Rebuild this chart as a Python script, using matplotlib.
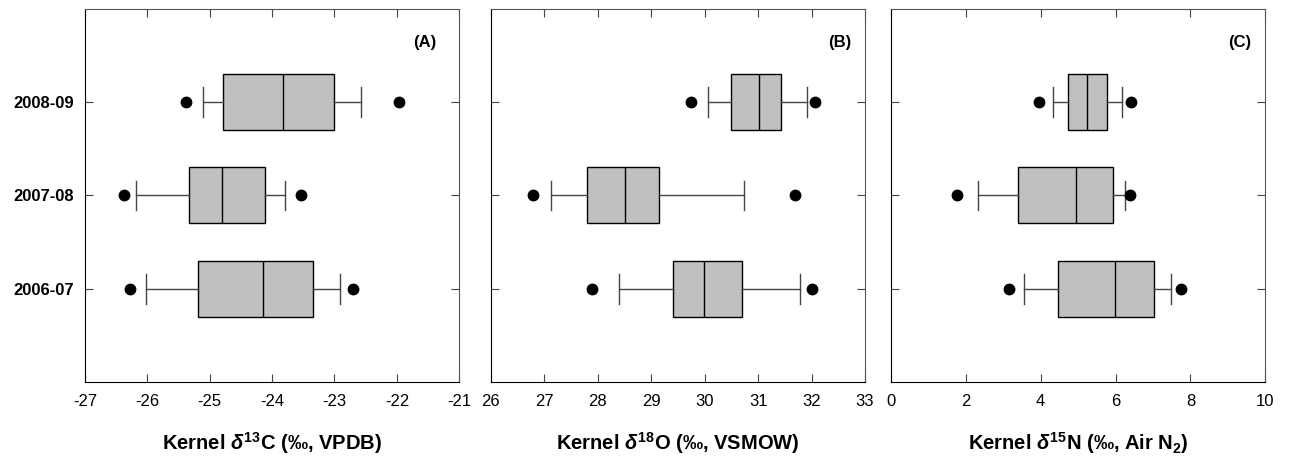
import matplotlib
matplotlib.use("Agg")
import matplotlib.pyplot as plt

plt.rcParams['font.family'] = ['Liberation Sans', 'DejaVu Sans']
plt.rcParams['axes.unicode_minus'] = False
plt.rcParams['mathtext.fontset'] = 'custom'
plt.rcParams['mathtext.rm'] = 'Liberation Sans:bold'
plt.rcParams['mathtext.it'] = 'Liberation Sans:italic:bold'
plt.rcParams['mathtext.bf'] = 'Liberation Sans:bold'

seasons = ['2006-07', '2007-08', '2008-09']

# (outlier low, whisker low, Q1, median, Q3, whisker high, outlier high) per season
d13c = [
    [-26.28, -26.02, -25.18, -24.14, -23.34, -22.91, -22.70],
    [-26.37, -26.18, -25.34, -24.80, -24.11, -23.80, -23.54],
    [-25.38, -25.10, -24.78, -23.83, -23.01, -22.58, -21.96],
]
d18o = [
    [27.90, 28.40, 29.40, 29.99, 30.70, 31.79, 32.00],
    [26.80, 27.12, 27.81, 28.52, 29.15, 30.74, 31.70],
    [29.74, 30.07, 30.50, 31.02, 31.43, 31.91, 32.07],
]
d15n = [
    [3.15, 3.56, 4.46, 5.99, 7.02, 7.49, 7.74],
    [1.76, 2.32, 3.39, 4.95, 5.92, 6.25, 6.38],
    [3.96, 4.34, 4.73, 5.24, 5.76, 6.17, 6.40],
]

xlabels = [r'Kernel $\delta^{13}$C (‰, VPDB)',
           r'Kernel $\delta^{18}$O (‰, VSMOW)',
           r'Kernel $\delta^{15}$N (‰, Air N$_2$)']
panel_tags = ['(A)', '(B)', '(C)']
xlims = [(-27, -21), (26, 33), (0, 10)]
xticks = [range(-27, -20), range(26, 34), range(0, 11, 2)]


def to_stats(rows):
    stats = []
    for r in rows:
        stats.append({'whislo': r[1], 'q1': r[2], 'med': r[3], 'q3': r[4],
                      'whishi': r[5], 'fliers': [r[0], r[6]]})
    return stats


fig = plt.figure(figsize=(12.93, 4.59), dpi=100)
lefts = [0.0657, 0.3795, 0.6891]
tag_x = [0.94, 0.963, 0.963]

for i, data in enumerate([d13c, d18o, d15n]):
    ax = fig.add_axes([lefts[i], 0.168, 0.2895, 0.8125])
    ax.bxp(to_stats(data), positions=[1, 2, 3], orientation='horizontal',
           widths=0.6, capwidths=0.32, patch_artist=True,
           boxprops=dict(facecolor='#c0c0c0', edgecolor='black', linewidth=1.0),
           medianprops=dict(color='black', linewidth=1.0),
           whiskerprops=dict(color='#444444', linewidth=1.0),
           capprops=dict(color='#444444', linewidth=1.0),
           flierprops=dict(marker='o', markerfacecolor='black',
                           markeredgecolor='black', markersize=7.5))
    ax.set_ylim(0, 4)
    ax.set_xlim(*xlims[i])
    ax.set_xticks(list(xticks[i]))
    ax.set_yticks([1, 2, 3])
    if i == 0:
        ax.set_yticklabels(seasons, fontsize=13, fontweight='bold')
    else:
        ax.set_yticklabels([])
    ax.tick_params(direction='in', length=6, top=True, right=True,
                   labelsize=12, width=0.8, color='#444444')
    ax.tick_params(axis='x', pad=9)
    ax.tick_params(axis='y', pad=8)
    for s in ['left', 'bottom']:
        ax.spines[s].set_color('black')
    for s in ['top', 'right']:
        ax.spines[s].set_color('#555555')
    ax.set_xlabel(xlabels[i], fontsize=14.5, fontweight='bold', labelpad=15)
    ax.text(tag_x[i], 0.91, panel_tags[i], transform=ax.transAxes,
            ha='right', va='center', fontsize=12, fontweight='bold')

fig.savefig('out.png', dpi=100)
